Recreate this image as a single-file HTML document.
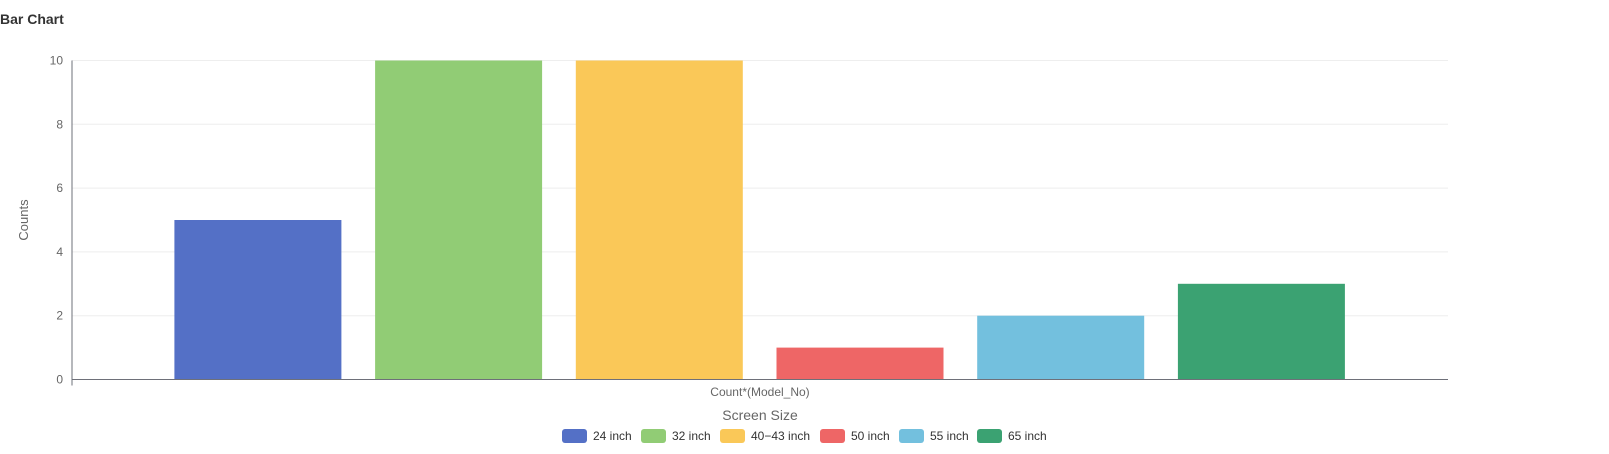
<!DOCTYPE html>
<html><head><meta charset="utf-8"><style>
body{margin:0;width:1609px;height:449px;overflow:hidden;background:#fff;font-family:"Liberation Sans",sans-serif}
</style></head><body>
<svg width="1609" height="449" xmlns="http://www.w3.org/2000/svg">
<text x="0" y="24" font-size="14" font-weight="bold" fill="#333">Bar Chart</text>
<g id="grid"></g>
<g id="bars"></g>
<g id="axes"></g>
<text x="0" y="0" transform="translate(28,220) rotate(-90)" text-anchor="middle" font-size="13" fill="#666">Counts</text>
<text x="760" y="396" text-anchor="middle" font-size="12" fill="#666">Count*(Model_No)</text>
<text x="760" y="420" text-anchor="middle" font-size="14" fill="#666">Screen Size</text>
<g id="legend"></g>
</svg>
<script>
const categories=["24 inch","32 inch","40−43 inch","50 inch","55 inch","65 inch"];
const values=[5,10,10,1,2,3];
const colors=["#5470c6","#91cc75","#fac858","#ee6666","#73c0de","#3ba272"];
const yTicks=[0,2,4,6,8,10];
const legendX=[562,641,720,820,899,977];
const NS="http://www.w3.org/2000/svg";
const L=72,R=1448,T=60.5,B=379.5,yMax=10;
const y=v=>B-(B-T)*v/yMax;
const x=i=>174.4+i*200.7;
const bw=167;
function mk(t,a,p){const e=document.createElementNS(NS,t);for(const k in a)e.setAttribute(k,a[k]);p.appendChild(e);return e;}
const grid=document.getElementById('grid'),axes=document.getElementById('axes'),bars=document.getElementById('bars'),leg=document.getElementById('legend');
yTicks.forEach(t=>{
 if(t>0){const g=mk('line',{x1:L,x2:R,y1:y(t),y2:y(t),stroke:'#eee'},grid);
 
 }
 const l=mk('text',{x:63,y:y(t)+4,'text-anchor':'end','font-size':12,fill:'#666'},axes);
 l.textContent=t;
 
 
});
const ya=mk('line',{x1:L,x2:L,y1:T,y2:B+6,stroke:'#6e7079'},axes);


const xa=mk('line',{x1:L,x2:R,y1:B,y2:B,stroke:'#6e7079'},axes);


values.forEach((v,i)=>{
 const r=mk('rect',{x:x(i),y:y(v),width:bw,height:B-y(v),fill:colors[i]},bars);
 
 
 const sw=mk('rect',{x:legendX[i],y:429,width:25,height:14,rx:3,fill:colors[i]},leg);
 
 
 const t=mk('text',{x:legendX[i]+31,y:440,'font-size':12,fill:'#333'},leg);
 t.textContent=categories[i];
 
 
});
</script>
</body></html>
